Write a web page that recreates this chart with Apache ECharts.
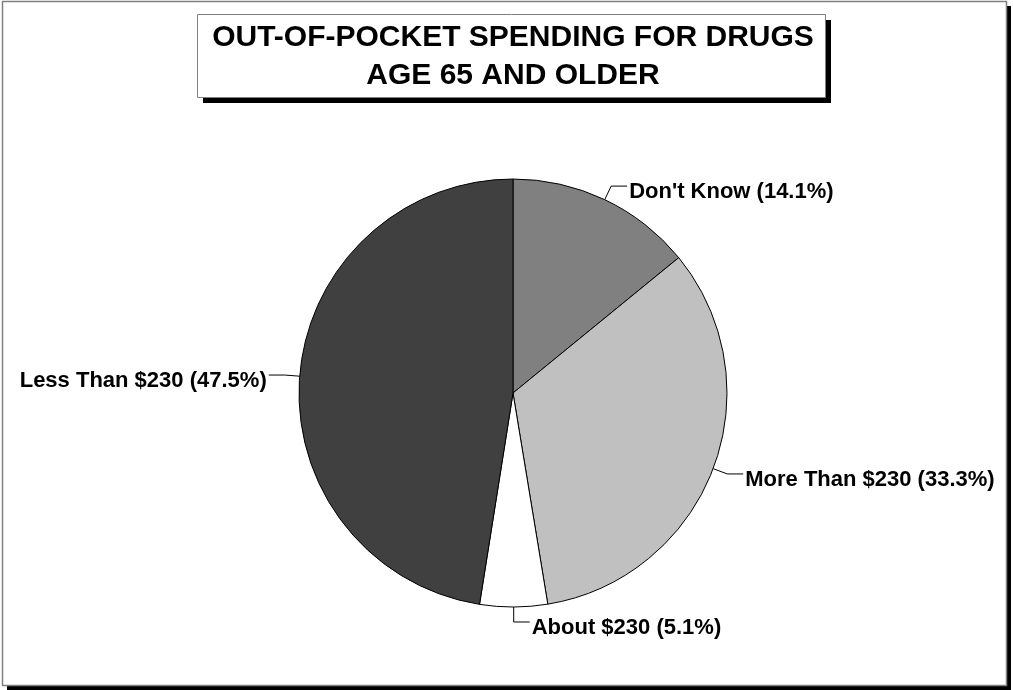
<!DOCTYPE html>
<html>
<head>
<meta charset="utf-8">
<title>Out-of-Pocket Spending for Drugs</title>
<script src="https://cdn.jsdelivr.net/npm/echarts@6/dist/echarts.min.js"></script>
<style>
  html, body { margin: 0; padding: 0; background: #fff; }
  #chart { width: 1013px; height: 690px; }
</style>
</head>
<body>
<div id="chart"></div>
<script>
// Survey answers, in drawing order starting at 12 o'clock and going clockwise
const categories = ['Don\'t Know', 'More Than $230', 'About $230', 'Less Than $230'];
const shares = [14.1, 33.3, 5.1, 47.5];
const sliceColors = ['#808080', '#c0c0c0', '#ffffff', '#404040'];
const titleLines = ['OUT-OF-POCKET SPENDING FOR DRUGS', 'AGE 65 AND OLDER'];

const FONT = '"Liberation Sans", Arial, Helvetica, sans-serif';

const chart = echarts.init(document.getElementById('chart'), null, { renderer: 'canvas' });

const pieData = categories.map((name, i) => ({
  name: name,
  value: shares[i],
  itemStyle: { color: sliceColors[i] }
}));

chart.setOption({
  backgroundColor: '#ffffff',
  animation: false,
  graphic: [
    // page frame with drop shadow
    { type: 'rect', z: 0, shape: { x: 7, y: 6, width: 1004, height: 684 }, style: { fill: '#000' } },
    { type: 'rect', z: 1, shape: { x: 2.5, y: 1.5, width: 1004, height: 684 }, style: { fill: '#fff', stroke: '#808080', lineWidth: 1.5 } },
    // title box with drop shadow
    { type: 'rect', z: 2, shape: { x: 203, y: 20, width: 628, height: 83 }, style: { fill: '#000' } },
    { type: 'rect', z: 3, shape: { x: 197.5, y: 14.5, width: 628, height: 83 }, style: { fill: '#fff', stroke: '#808080', lineWidth: 1 } },
    {
      type: 'text', z: 4, x: 513, y: 38,
      style: {
        text: titleLines[0], fill: '#000', font: 'bold 30px ' + FONT,
        textAlign: 'center', textVerticalAlign: 'middle'
      }
    },
    {
      type: 'text', z: 4, x: 513, y: 76,
      style: {
        text: titleLines[1], fill: '#000', font: 'bold 30px ' + FONT,
        textAlign: 'center', textVerticalAlign: 'middle'
      }
    }
  ],
  series: [{
    type: 'pie',
    z: 5,
    center: [513, 393],
    radius: [0, 214],
    startAngle: 90,
    clockwise: true,
    minAngle: 0,
    avoidLabelOverlap: false,
    data: pieData,
    itemStyle: { borderColor: '#000', borderWidth: 1 },
    emphasis: { disabled: true },
    label: {
      show: true,
      position: 'outside',
      // text sits a little below the leader line's horizontal run
      formatter: p => '{t|' + p.name + ' (' + p.value.toFixed(1) + '%)}',
      rich: {
        t: {
          color: '#000',
          fontFamily: FONT,
          fontWeight: 'bold',
          fontSize: 22,
          padding: [11, 0, 0, 0]
        }
      },
      distanceToLabelLine: 2
    },
    labelLine: {
      show: true,
      length: 15,
      length2: 16,
      smooth: false,
      lineStyle: { color: '#000', width: 1 }
    }
  }]
});
</script>
</body>
</html>
